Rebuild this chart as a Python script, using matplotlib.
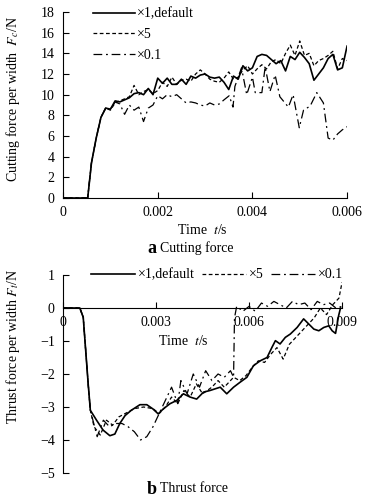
import numpy as np
import matplotlib
matplotlib.use("Agg")
import matplotlib.pyplot as plt

plt.rcParams['font.family'] = ['Liberation Serif', 'DejaVu Serif']
plt.rcParams['mathtext.fontset'] = 'stix'
plt.rcParams['axes.unicode_minus'] = True

# ---- data: cutting force (panel a) ----
t_c = [0, 0.00052, 0.0006, 0.0007, 0.0008, 0.0009, 0.001, 0.0011, 0.0012, 0.0013,
       0.0014, 0.0015, 0.0016, 0.0017, 0.0018, 0.0019, 0.002, 0.0021, 0.0022, 0.0023,
       0.0024, 0.0025, 0.0026, 0.0027, 0.0028, 0.0029, 0.003, 0.0031, 0.0032, 0.0033,
       0.0034, 0.0035, 0.0036, 0.0037, 0.0038, 0.0039, 0.004, 0.0041, 0.0042, 0.0043,
       0.0044, 0.0045, 0.0046, 0.0047, 0.0048, 0.0049, 0.005, 0.0051, 0.0052, 0.0053,
       0.0054, 0.0055, 0.0056, 0.0057, 0.0058, 0.0059, 0.006]
fc_x1 = [0, 0, 3.4, 5.8, 7.8, 8.7, 8.6, 9.4, 9.3, 9.5, 9.7, 10.1, 10.2, 10.0, 10.6, 10.0,
         11.6, 11.1, 11.6, 11.0, 11.0, 11.5, 11.0, 11.8, 11.6, 11.9, 12.0, 11.7, 11.6, 11.7,
         11.2, 10.5, 11.8, 11.5, 12.8, 12.3, 12.6, 13.7, 13.9, 13.8, 13.4, 13.0, 13.3, 12.3,
         13.7, 13.4, 14.1, 13.6, 13.0, 11.4, 12.0, 12.6, 13.5, 13.9, 12.4, 12.6, 14.7]
fc_x5 = [0, 0, 3.4, 5.8, 7.8, 8.7, 8.5, 9.2, 9.4, 9.6, 9.8, 10.9, 10.0, 10.3, 10.5, 10.1,
         10.4, 11.2, 10.8, 11.7, 11.0, 11.4, 11.5, 11.3, 12.0, 12.4, 12.0, 11.5, 11.3, 11.2,
         11.6, 12.2, 11.5, 11.7, 12.4, 12.8, 12.0, 12.5, 12.9, 12.5, 13.2, 13.4, 13.0, 14.0,
         14.8, 13.8, 15.2, 13.8, 14.0, 12.8, 13.3, 13.5, 13.8, 14.2, 12.5, 13.5, 13.3]
t_c01 = [0, 0.00052, 0.0006, 0.0007, 0.0008, 0.0009, 0.001, 0.0011, 0.0012, 0.0013,
         0.0014, 0.0015, 0.0016, 0.0017, 0.0018, 0.0019, 0.002, 0.0021, 0.0022, 0.0023,
         0.0024, 0.0025, 0.0026, 0.0027, 0.0028, 0.0029, 0.003, 0.0031, 0.0032, 0.0033,
         0.0034, 0.00351, 0.00359, 0.00363, 0.00377, 0.00388, 0.004, 0.00406, 0.0042, 0.00427,
         0.00437, 0.00448, 0.00458, 0.00476, 0.00486, 0.00499, 0.00508, 0.00522, 0.00536, 0.0055,
         0.0056, 0.0057, 0.0058, 0.0059, 0.006]
fc_x01 = [0, 0, 3.4, 5.8, 7.8, 8.7, 8.6, 9.3, 9.1, 8.1, 9.0, 8.5, 8.8, 7.4, 8.7, 9.0,
          9.9, 9.6, 10.0, 9.8, 10.0, 9.6, 9.2, 9.3, 9.2, 9.0, 8.9, 9.2, 9.0, 9.1,
          9.5, 9.9, 8.8, 10.8, 12.6, 10.0, 11.7, 10.2, 10.2, 12.7, 10.3, 11.9, 9.8, 8.8,
          10.0, 6.8, 8.5, 8.9, 10.2, 9.2, 5.8, 5.6, 6.2, 6.6, 6.9]

# ---- data: thrust force (panel b) ----
t_t1 = [0, 0.00054, 0.00065, 0.00081, 0.00088, 0.00108, 0.00129, 0.00151, 0.00167, 0.00183,
        0.002, 0.0022, 0.00248, 0.0027, 0.0029, 0.00307, 0.00323, 0.00345, 0.00367, 0.00388,
        0.0041, 0.00431, 0.00453, 0.00474, 0.00507, 0.00528, 0.0055, 0.00571, 0.00593, 0.00614,
        0.00636, 0.00658, 0.00674, 0.00685, 0.007, 0.00717, 0.00733, 0.00755, 0.00776, 0.00792,
        0.00809, 0.00825, 0.00841, 0.00857, 0.00868, 0.00879, 0.00889, 0.00895]
ft_x1 = [0, 0, -0.28, -2.3, -3.1, -3.4, -3.7, -3.87, -3.82, -3.5,
         -3.26, -3.1, -2.93, -2.93, -3.06, -3.21, -3.06, -2.9, -2.8, -2.6,
         -2.7, -2.76, -2.55, -2.5, -2.4, -2.6, -2.4, -2.25, -2.1, -1.75,
         -1.6, -1.5, -1.19, -0.99, -1.09, -0.89, -0.79, -0.59, -0.33, -0.48,
         -0.64, -0.69, -0.59, -0.54, -0.69, -0.77, -0.23, 0]
t_t5 = [0, 0.00054, 0.00065, 0.00081, 0.00088, 0.001, 0.0012, 0.0014, 0.0016, 0.0018,
        0.002, 0.0023, 0.0026, 0.0029, 0.0031, 0.0033, 0.0035, 0.0037, 0.0039, 0.0041,
        0.0043, 0.0045, 0.0048, 0.005, 0.0052, 0.0055, 0.0057, 0.0059, 0.0061, 0.0063,
        0.0065, 0.0067, 0.0069, 0.0071, 0.0073, 0.0075, 0.0077, 0.0079, 0.0081, 0.0083,
        0.0085, 0.0087, 0.0089, 0.009]
ft_x5 = [0, 0, -0.28, -2.3, -3.1, -3.6, -3.85, -3.4, -3.55, -3.3,
         -3.2, -3.05, -3.0, -3.05, -3.2, -3.0, -2.7, -2.9, -2.5, -2.7,
         -2.3, -2.6, -2.4, -2.2, -2.4, -2.1, -2.2, -2.05, -1.8, -1.6,
         -1.65, -1.4, -1.2, -1.55, -1.1, -0.9, -0.7, -0.5, -0.3, 0.0,
         -0.2, 0.1, 0.3, 0.78]
t_t01 = [0, 0.00054, 0.00065, 0.00081, 0.00088, 0.0011, 0.0013, 0.0015, 0.0017, 0.0019,
         0.0021, 0.0023, 0.0025, 0.0027, 0.0029, 0.0031, 0.0033, 0.0035, 0.0037, 0.0038,
         0.004, 0.0042, 0.0044, 0.0046, 0.0048, 0.005, 0.0052, 0.0054, 0.0055, 0.00553,
         0.0056, 0.0058, 0.006, 0.0062, 0.0064, 0.0066, 0.0068, 0.007, 0.0072, 0.0074,
         0.0076, 0.0078, 0.008, 0.0082, 0.0084, 0.0086, 0.0088, 0.009]
ft_x01 = [0, 0, -0.28, -2.3, -3.1, -3.9, -3.4, -3.6, -3.5, -3.5,
          -3.6, -3.75, -4.0, -3.9, -3.6, -3.2, -2.8, -2.4, -2.9, -2.2,
          -2.6, -2.0, -2.4, -1.9, -2.2, -2.0, -2.1, -1.9, -2.1, -0.3,
          0.05, -0.1, 0.05, -0.1, 0.15, 0.05, 0.2, 0.1, 0.0, 0.2,
          0.1, 0.15, -0.05, 0.2, 0.1, 0.15, 0.0, 0.05]

labels = ['×1,default', '×5', '×0.1']
xt_c = [0, 0.002, 0.004, 0.006]
xt_c_lab = ['0', '0.002', '0.004', '0.006']
xt_t = [0, 0.003, 0.006, 0.009]
xt_t_lab = ['0', '0.003', '0.006', '0.009']

dash = (0, (3, 2))
dashdot = (0, (7, 3, 1.5, 3))

fig = plt.figure(figsize=(3.71, 4.97), dpi=100)

# panel a
ax1 = fig.add_axes([0.170, 0.6016, 0.7655, 0.3742])
ax1.plot(t_c, fc_x1, color='black', lw=1.2, label=labels[0])
ax1.plot(t_c, fc_x5, color='black', lw=0.9, linestyle=dash, label=labels[1])
ax1.plot(t_c01, fc_x01, color='black', lw=0.9, linestyle=dashdot, label=labels[2])
ax1.set_xlim(0, 0.006)
ax1.set_ylim(0, 18)
ax1.set_yticks(np.arange(0, 19, 2))
ax1.set_xticks(xt_c)
ax1.set_xticklabels(xt_c_lab)
ax1.spines['top'].set_visible(False)
ax1.spines['right'].set_visible(False)
ax1.tick_params(direction='in', length=4, width=0.8, labelsize=10, pad=6)
ax1.set_xlabel('Time  $t$/s', fontsize=10)
ax1.xaxis.set_label_coords(0.49, -0.135)
ax1.set_ylabel('Cutting force per width  $F_c$/N', fontsize=10)
ax1.yaxis.set_label_coords(-0.145, 0.53)
ax1.legend(loc='upper left', bbox_to_anchor=(0.105, 1.025), frameon=False, fontsize=10,
           handlelength=3.0, handletextpad=0.2, labelspacing=0.55, borderpad=0,
           borderaxespad=0)

# panel b
ax2 = fig.add_axes([0.170, 0.0483, 0.752, 0.3984])
ax2.plot(t_t1, ft_x1, color='black', lw=1.2, label=labels[0])
ax2.plot(t_t5, ft_x5, color='black', lw=0.9, linestyle=dash, label=labels[1])
ax2.plot(t_t01, ft_x01, color='black', lw=0.9, linestyle=dashdot, label=labels[2])
ax2.set_xlim(0, 0.009)
ax2.set_ylim(-5, 1)
ax2.set_yticks(np.arange(-5, 2, 1))
ax2.set_xticks(xt_t)
ax2.set_xticklabels(xt_t_lab)
ax2.spines['top'].set_visible(False)
ax2.spines['right'].set_visible(False)
ax2.spines['bottom'].set_position(('data', 0))
ax2.tick_params(direction='in', length=4, width=0.8, labelsize=10, pad=6)
ax2.set_xlabel('Time  $t$/s', fontsize=10)
ax2.xaxis.set_label_coords(0.43, 0.70)
ax2.set_ylabel('Thrust force per width $F_t$/N', fontsize=10)
ax2.yaxis.set_label_coords(-0.147, 0.64)
ax2.legend(loc='center left', bbox_to_anchor=(0.1, 1.0), ncol=3, frameon=False,
           fontsize=10, handlelength=3.2, handletextpad=0.2, columnspacing=0.5,
           borderpad=0, borderaxespad=0)

# captions
fig.text(0.396, 1 - 249 / 497, 'a', fontsize=13, fontweight='bold', ha='left', va='center')
fig.text(0.432, 1 - 248 / 497, 'Cutting force', fontsize=10, ha='left', va='center')
fig.text(0.396, 1 - 489 / 497, 'b', fontsize=13, fontweight='bold', ha='left', va='center')
fig.text(0.432, 1 - 488 / 497, 'Thrust force', fontsize=10, ha='left', va='center')

fig.savefig('out.png', dpi=100)
